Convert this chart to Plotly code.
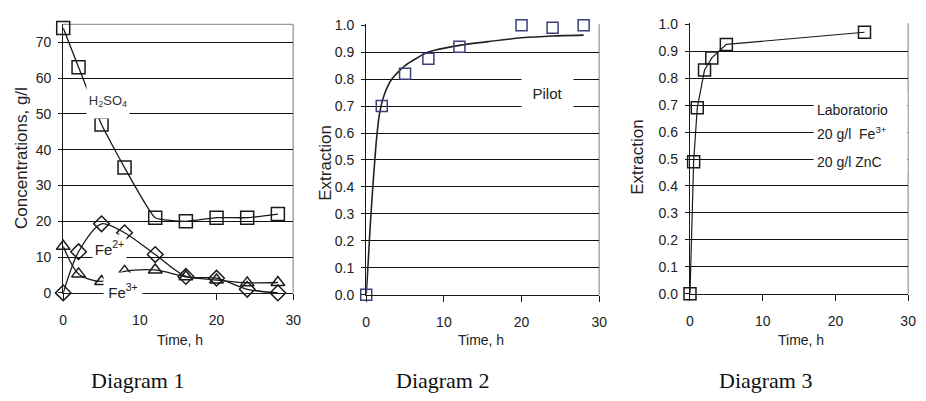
import plotly.graph_objects as go

W, H = 926, 401

# ---------------- data ----------------
# Diagram 1: concentrations vs time
d1_time = [0, 2, 5, 8, 12, 16, 20, 24, 28]
d1_h2so4 = [74, 63, 47, 35, 21, 20, 21, 21, 22]
d1_fe2 = [0, 11.5, 19.3, 16.8, 10.7, 4.6, 4.1, 1.0, 0]
d1_fe3 = [13, 5.3, 3.2, 6.0, 6.4, 4.5, 3.6, 2.8, 2.9]

# Diagram 2: pilot extraction (points and fitted curve)
d2_time = [0, 2, 5, 8, 12, 20, 24, 28]
d2_extr = [0, 0.70, 0.82, 0.875, 0.92, 1.0, 0.99, 1.0]
d2_fit_time = [0, 0.25, 0.5, 0.75, 1.0, 1.3, 1.7, 2.3, 3.3, 5, 8, 12, 16, 20, 24, 28]
d2_fit_extr = [0, 0.12, 0.25, 0.36, 0.46, 0.57, 0.67, 0.74, 0.80, 0.85, 0.90,
               0.925, 0.94, 0.953, 0.96, 0.963]

# Diagram 3: laboratory extraction
d3_time = [0, 0.5, 1, 2, 3, 5, 24]
d3_extr = [0, 0.49, 0.69, 0.83, 0.875, 0.925, 0.97]

x_ticks = [0, 10, 20, 30]
d1_yticks = [0, 10, 20, 30, 40, 50, 60, 70]
ext_yticks = [round(i * 0.1, 1) for i in range(11)]

# ---------------- layout helpers ----------------
def fx(px):
    return px / W

def fy(py):
    return 1 - py / H

SANS = "Liberation Sans, Arial, sans-serif"
SERIF = "Liberation Serif, Times New Roman, serif"
INK = "#1a1a1a"
GRID = "#111111"
BORDER = "#9a9a9a"

fig = go.Figure()

# Diagram 1 traces
fig.add_trace(go.Scatter(x=d1_time, y=d1_h2so4, mode="lines+markers",
                         line=dict(color=INK, width=1.3, shape="spline", smoothing=0.4),
                         marker=dict(symbol="square-open", size=13, color=INK, line=dict(width=1.5)),
                         xaxis="x", yaxis="y", cliponaxis=False, showlegend=False))
fig.add_trace(go.Scatter(x=d1_time, y=d1_fe2, mode="lines+markers",
                         line=dict(color=INK, width=1.3, shape="spline", smoothing=0.8),
                         marker=dict(symbol="diamond-open", size=12, color=INK, line=dict(width=1.5)),
                         xaxis="x", yaxis="y", cliponaxis=False, showlegend=False))
fig.add_trace(go.Scatter(x=d1_time, y=d1_fe3, mode="lines+markers",
                         line=dict(color=INK, width=1.3, shape="spline", smoothing=0.8),
                         marker=dict(symbol="triangle-up-open", size=12, color=INK, line=dict(width=1.5)),
                         xaxis="x", yaxis="y", cliponaxis=False, showlegend=False))

# Diagram 2 traces
fig.add_trace(go.Scatter(x=d2_fit_time, y=d2_fit_extr, mode="lines",
                         line=dict(color="#222222", width=1.6, shape="spline", smoothing=0.6),
                         xaxis="x2", yaxis="y2", cliponaxis=False, showlegend=False))
fig.add_trace(go.Scatter(x=d2_time, y=d2_extr, mode="markers",
                         marker=dict(symbol="square-open", size=11, color="#3b3f7a", line=dict(width=1.5)),
                         xaxis="x2", yaxis="y2", cliponaxis=False, showlegend=False))

# Diagram 3 traces
fig.add_trace(go.Scatter(x=d3_time, y=d3_extr, mode="lines+markers",
                         line=dict(color=INK, width=1.2),
                         marker=dict(symbol="square-open", size=12, color=INK, line=dict(width=1.5)),
                         xaxis="x3", yaxis="y3", cliponaxis=False, showlegend=False))

tickfont = dict(family=SANS, size=14, color="#222222")

def xaxis(domain, anchor):
    return dict(domain=domain, anchor=anchor, range=[0, 30], tickvals=x_ticks,
                showgrid=False, zeroline=False, showline=True, linecolor=INK, linewidth=1.3,
                ticks="outside", ticklen=6, tickcolor=INK, tickwidth=1.3,
                tickfont=tickfont, ticklabelstandoff=8, fixedrange=True)

def yaxis(domain, anchor, rng, tickvals, fmt):
    return dict(domain=domain, anchor=anchor, range=rng, tickvals=tickvals, tickformat=fmt,
                showgrid=True, gridcolor=GRID, gridwidth=1.2, zeroline=False,
                showline=True, linecolor=INK, linewidth=1.3,
                ticks="outside", ticklen=4, tickcolor=INK, tickwidth=1.3,
                tickfont=tickfont, ticklabelstandoff=4, fixedrange=True)

# pixel geometry of the three plot areas
p1 = dict(l=60, r=293, t=18, b=297)
p2 = dict(l=367, r=603, t=18, b=299)
p3 = dict(l=695, r=916, t=17, b=298)

fig.update_layout(
    width=W, height=H, margin=dict(l=0, r=0, t=0, b=0),
    paper_bgcolor="white", plot_bgcolor="white", showlegend=False,
    xaxis=xaxis([fx(p1["l"]), fx(p1["r"])], "y"),
    yaxis=yaxis([fy(p1["b"]), fy(p1["t"])], "x", [0, 75], d1_yticks, "d"),
    xaxis2=xaxis([fx(p2["l"]), fx(p2["r"])], "y2"),
    yaxis2=yaxis([fy(p2["b"]), fy(p2["t"])], "x2", [0, 1.003], ext_yticks, ".1f"),
    xaxis3=xaxis([fx(p3["l"]), fx(p3["r"])], "y3"),
    yaxis3=yaxis([fy(p3["b"]), fy(p3["t"])], "x3", [0, 1.003], ext_yticks, ".1f"),
)

# grey frame (top/right) of each plot area
shapes = []
for xa, ya, top in (("x", "y", True), ("x2", "y2", False), ("x3", "y3", False)):
    shapes.append(dict(type="line", xref=f"{xa} domain", yref=f"{ya} domain",
                       x0=1, x1=1, y0=0, y1=1, line=dict(color=BORDER, width=1.3), layer="below"))
    if top:
        shapes.append(dict(type="line", xref=f"{xa} domain", yref=f"{ya} domain",
                           x0=0, x1=1, y0=1, y1=1, line=dict(color=BORDER, width=1.3), layer="below"))
# white box behind the diagram 3 labels
shapes.append(dict(type="rect", xref="x3", yref="y3", x0=17.0, x1=29.9, y0=0.448, y1=0.747,
                   fillcolor="white", line=dict(width=0), layer="above"))
fig.update_layout(shapes=shapes)

ann = []
lab = dict(family=SANS, size=14, color="#222222")
C = dict(showarrow=False, xanchor="center", yanchor="middle")
# series labels diagram 1
ann.append(dict(x=5.8, y=53.5, xref="x", yref="y", text="H<sub>2</sub>SO<sub>4</sub>",
                bgcolor="white", width=40, height=32, font=dict(family=SANS, size=13, color="#333"), **C))
ann.append(dict(x=6.1, y=12.6, xref="x", yref="y", text="Fe<sup>2+</sup>",
                bgcolor="white", width=31, height=24, font=dict(family=SANS, size=15, color="#222"), **C))
ann.append(dict(x=7.85, y=0.5, xref="x", yref="y", text="Fe<sup>3+</sup>",
                bgcolor="white", width=36, height=34, font=dict(family=SANS, size=15, color="#222"), **C))
# diagram 2 label
ann.append(dict(x=23.3, y=0.747, xref="x2", yref="y2", text="Pilot",
                bgcolor="white", width=49, height=40, font=dict(family=SANS, size=15, color="#222"), **C))
# diagram 3 labels
for txt, yv in (("Laboratorio", 0.683), ("20 g/l  Fe<sup>3+</sup>", 0.598), ("20 g/l ZnC", 0.4875)):
    ann.append(dict(x=17.24, y=yv, xref="x3", yref="y3", text=txt, xanchor="left", yanchor="middle",
                    showarrow=False, font=lab))

# axis titles
title_font = dict(family=SANS, size=14, color="#222222")
for cx in (178, 483, 807):
    ann.append(dict(x=fx(cx), y=fy(346), xref="paper", yref="paper", text="Time, h",
                    font=title_font, **C))
for cx, cy, txt in ((17, 157, "Concentrations, g/l"), (326, 162, "Extraction"), (641, 156, "Extraction")):
    ann.append(dict(x=fx(cx), y=fy(cy), xref="paper", yref="paper", text=txt, textangle=-90,
                    font=dict(family=SANS, size=17, color="#222222"), **C))
# diagram captions
for cx, txt in ((135, "Diagram 1"), (444, "Diagram 2"), (772, "Diagram 3")):
    ann.append(dict(x=fx(cx), y=fy(388), xref="paper", yref="paper", text=txt,
                    font=dict(family=SERIF, size=22, color="#111111"), **C))
fig.update_layout(annotations=ann)

fig.write_html("out.html", config={"displayModeBar": False})
